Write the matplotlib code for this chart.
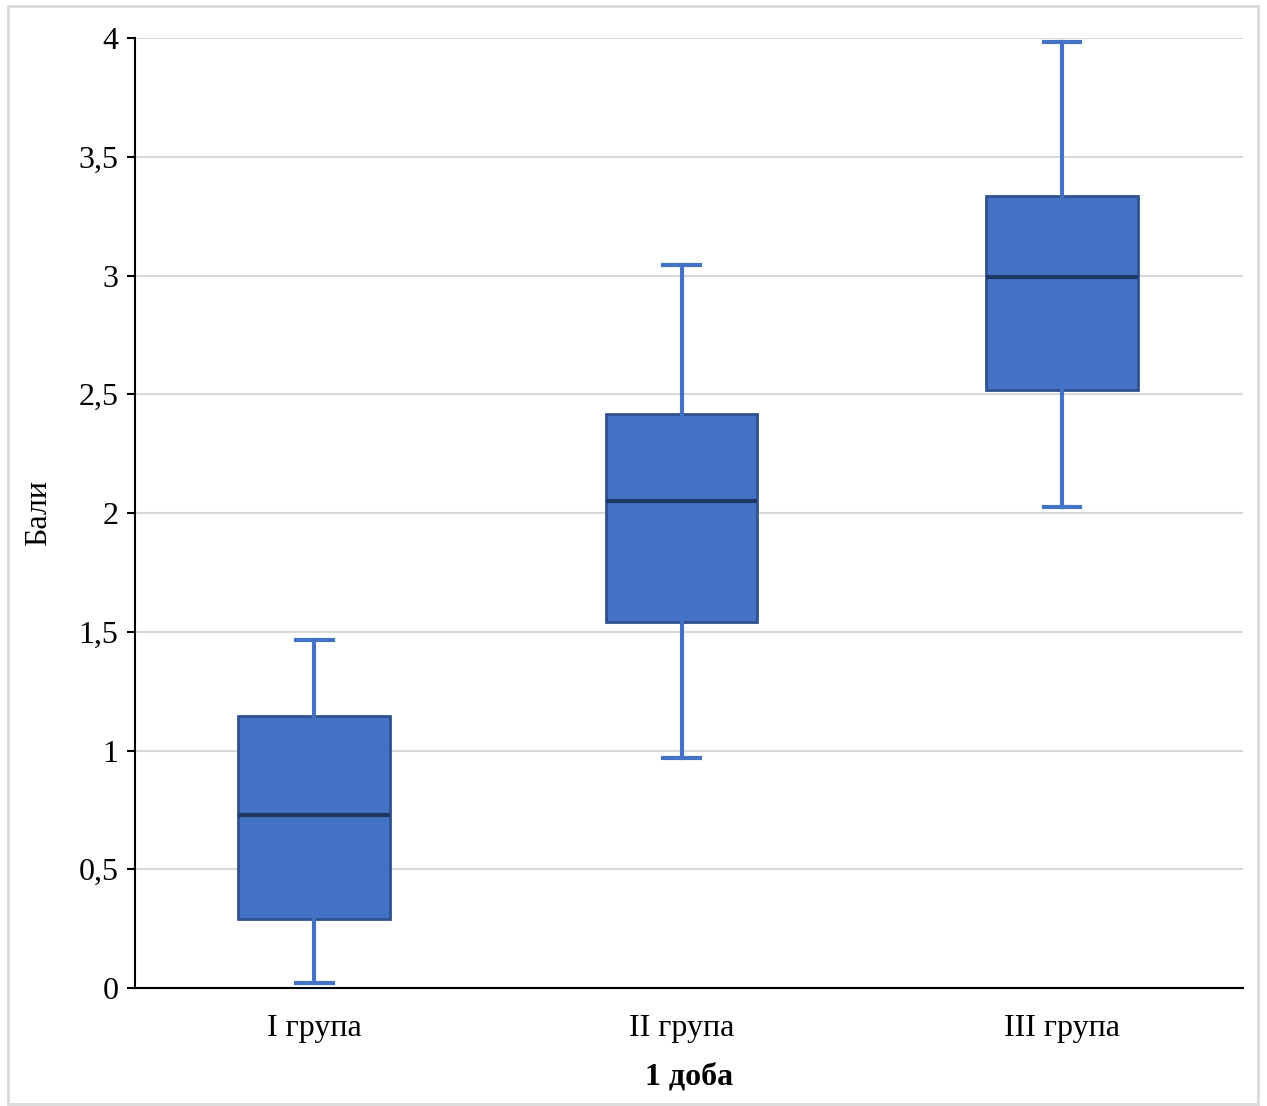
import matplotlib
matplotlib.use("Agg")
import matplotlib.pyplot as plt
from matplotlib.patches import Rectangle
from matplotlib.ticker import FuncFormatter

groups = ["I група", "II група", "III група"]
whislo = [0.02, 0.97, 2.025]
q1 = [0.29, 1.54, 2.52]
med = [0.728, 2.05, 2.995]
q3 = [1.145, 2.417, 3.335]
whishi = [1.465, 3.045, 3.985]

plt.rcParams["font.family"] = ["Liberation Serif", "DejaVu Serif"]

fig = plt.figure(figsize=(12.67, 11.06), dpi=100)
ax = fig.add_axes([0.1066, 0.1067, 0.8744, 0.8589])

stats = []
for i in range(len(groups)):
    stats.append({"label": groups[i], "whislo": whislo[i], "q1": q1[i], "med": med[i],
                  "q3": q3[i], "whishi": whishi[i], "fliers": []})

blue = "#4472C4"
ax.bxp(stats, positions=[0.985, 1.98, 3.01], widths=0.41, patch_artist=True, showfliers=False,
       boxprops=dict(facecolor=blue, edgecolor="#2F528F", linewidth=2),
       medianprops=dict(color="#1F3864", linewidth=3),
       whiskerprops=dict(color=blue, linewidth=3),
       capprops=dict(color=blue, linewidth=3),
       capwidths=0.1, zorder=3)

ax.set_xlim(0.5, 3.5)
ax.set_ylim(0, 4)
ax.set_yticks([0, 0.5, 1, 1.5, 2, 2.5, 3, 3.5, 4])
ax.yaxis.set_major_formatter(FuncFormatter(lambda v, p: ("%g" % v).replace(".", ",")))
ax.grid(axis="y", color="#D9D9D9", linewidth=1.5, zorder=0)
ax.set_axisbelow(True)

for s in ["top", "right"]:
    ax.spines[s].set_visible(False)
ax.spines["left"].set_linewidth(1.5)
ax.spines["bottom"].set_linewidth(1.5)

ax.tick_params(axis="y", labelsize=23, length=6, width=1.5, pad=6)
ax.tick_params(axis="x", labelsize=23, length=0, pad=19)

ax.set_ylabel("Бали", fontsize=23)
ax.yaxis.set_label_coords(-0.074, 0.5)
ax.set_xlabel("1 доба", fontsize=23, fontweight="bold", labelpad=14)

fig.patches.append(Rectangle((8 / 1267, 2 / 1106), 1250 / 1267, 1098 / 1106,
                             transform=fig.transFigure, fill=False,
                             edgecolor="#D9D9D9", linewidth=2))

fig.savefig("out.png", dpi=100)
